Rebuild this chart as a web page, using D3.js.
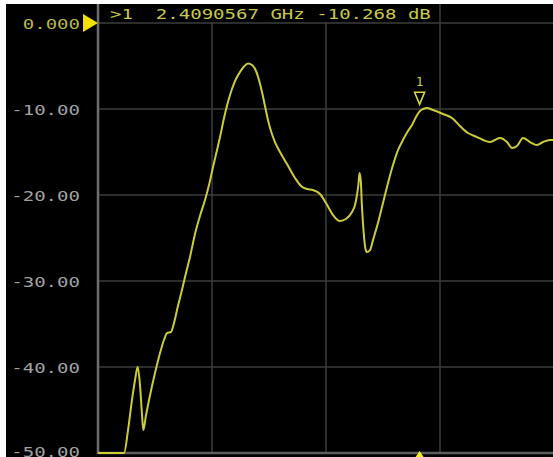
<!DOCTYPE html>
<html>
<head>
<meta charset="utf-8">
<script src="https://cdn.jsdelivr.net/npm/d3@7"></script>
<style>
  html, body { margin: 0; padding: 0; background: #fff; }
  svg { display: block; }
  text { font-family: "DejaVu Sans Mono", "Liberation Mono", monospace; }
</style>
</head>
<body>
<svg id="chart" width="553" height="457"></svg>
<script>
// S11 sweep, frequency in GHz
const freqGHz = [
  2.0000, 2.0331, 2.0382, 2.0432, 2.0471, 2.0505, 2.0534, 2.0560, 2.0576, 2.0611,
  2.0649, 2.0687, 2.0725, 2.0789, 2.0839, 2.0878, 2.0928, 2.0967, 2.1017, 2.1068,
  2.1119, 2.1170, 2.1234, 2.1297, 2.1361, 2.1412, 2.1463, 2.1514, 2.1552, 2.1603,
  2.1653, 2.1704, 2.1755, 2.1806, 2.1857, 2.1908, 2.1959, 2.2010, 2.2048, 2.2086,
  2.2124, 2.2162, 2.2200, 2.2251, 2.2315, 2.2404, 2.2506, 2.2582, 2.2658, 2.2735,
  2.2824, 2.2900, 2.2989, 2.3078, 2.3154, 2.3231, 2.3269, 2.3294, 2.3313, 2.3326,
  2.3343, 2.3355, 2.3374, 2.3396, 2.3418, 2.3460, 2.3498, 2.3561, 2.3625, 2.3689,
  2.3752, 2.3816, 2.3879, 2.3943, 2.3994, 2.4045, 2.4090567, 2.4134, 2.4185, 2.4261,
  2.4388, 2.4503, 2.4604, 2.4706, 2.4821, 2.4897, 2.4986, 2.5049, 2.5113, 2.5202,
  2.5266, 2.5329, 2.5406, 2.5495, 2.5584, 2.5660, 2.5749, 2.5800
];
// Return loss, dB
const s11dB = [
  -50.00, -50.00, -47.33, -43.84, -41.51, -40.00, -42.09, -45.58, -47.33, -45.58,
  -43.84, -42.21, -40.70, -38.37, -36.86, -36.05, -35.93, -34.88, -32.91, -31.05,
  -29.07, -27.21, -24.53, -22.44, -20.58, -18.84, -16.74, -14.77, -13.26, -11.05,
  -9.19, -7.67, -6.51, -5.70, -5.06, -4.71, -4.88, -5.58, -6.63, -8.02,
  -9.65, -11.28, -12.56, -13.84, -15.00, -16.40, -18.02, -18.95, -19.30, -19.42,
  -19.88, -20.93, -22.33, -23.02, -22.79, -21.98, -21.16, -20.00, -18.72, -17.44,
  -18.37, -20.93, -23.72, -25.93, -26.63, -26.40, -25.23, -23.26, -20.93, -18.60,
  -16.51, -14.77, -13.60, -12.56, -11.86, -10.93, -10.268, -10.00, -9.88, -10.12,
  -10.58, -11.05, -11.98, -12.79, -13.26, -13.60, -13.84, -13.60, -13.37, -13.84,
  -14.53, -14.30, -13.37, -13.84, -14.19, -13.84, -13.60, -13.60
];
// Amplitude grid, dB per division
const yTicks = [0, -10, -20, -30, -40, -50];
const yTickLabels = ["0.000", "-10.00", "-20.00", "-30.00", "-40.00", "-50.00"];
// Frequency grid lines, GHz
const xTicks = [2.145, 2.29, 2.435, 2.58];
// Marker 1
const markerId = "1";
const markerFreqGHz = 2.4090567;
const markerdB = -10.268;

const W = 553, H = 457;
const FONT_STRETCH = 1.36;   // wide instrument font
const svg = d3.select("#chart");

const x = d3.scaleLinear().domain([2.0, 2.58]).range([98, 554]);
const y = d3.scaleLinear().domain([-50, 0]).range([453, 23]);

// screen background
svg.append("rect").attr("width", W).attr("height", H).attr("fill", "#ffffff");
svg.append("rect").attr("x", 6).attr("y", 4).attr("width", W - 6).attr("height", H - 4).attr("fill", "#000000");

// grid
const grid = svg.append("g").attr("stroke", "#3c3c3c").attr("stroke-width", 1.5);
grid.selectAll("line.v").data(xTicks).join("line")
  .attr("x1", d => x(d)).attr("x2", d => x(d))
  .attr("y1", 4).attr("y2", y(-50));
grid.selectAll("line.h").data(yTicks.slice(0, -1)).join("line")
  .attr("x1", x(2.0)).attr("x2", W)
  .attr("y1", d => y(d)).attr("y2", d => y(d));

// header box over top of grid
svg.append("rect").attr("x", x(2.0) + 1).attr("y", 4)
  .attr("width", 437 - x(2.0)).attr("height", 18).attr("fill", "#000");

// frame axes
svg.append("line").attr("x1", x(2.0)).attr("x2", x(2.0)).attr("y1", 4).attr("y2", y(-50) + 1)
  .attr("stroke", "#6e6e6e").attr("stroke-width", 2.5);
svg.append("line").attr("x1", x(2.0)).attr("x2", W).attr("y1", y(-50)).attr("y2", y(-50))
  .attr("stroke", "#5e5e5e").attr("stroke-width", 2.5);

// amplitude labels
svg.selectAll("text.ylab").data(yTicks).join("text")
  .attr("class", "ylab")
  .attr("transform", d => `translate(80,${Math.min(y(d) + 5.5, 456.5)}) scale(${FONT_STRETCH},1)`)
  .attr("text-anchor", "end")
  .attr("font-size", 14)
  .attr("fill", (d, i) => i === 0 ? "#b8b84a" : "#a2a2a2")
  .text((d, i) => yTickLabels[i]);

// reference level pointer
svg.append("path")
  .attr("d", `M83,${y(0) - 9}L98,${y(0)}L83,${y(0) + 9}Z`)
  .attr("fill", "#f2e200");

// trace
const pts = freqGHz.map((f, i) => [f, s11dB[i]]);
const line = d3.line().x(d => x(d[0])).y(d => y(d[1])).curve(d3.curveMonotoneX);
svg.append("path").datum(pts)
  .attr("d", line)
  .attr("fill", "none")
  .attr("stroke", "#cccc3a")
  .attr("stroke-width", 2)
  .attr("stroke-linejoin", "round");

// marker 1 on trace
const mx = x(markerFreqGHz), my = y(markerdB);
svg.append("path")
  .attr("d", `M${mx - 5},${my - 19}L${mx + 5},${my - 19}L${mx},${my - 7}Z`)
  .attr("fill", "none").attr("stroke", "#d8d840").attr("stroke-width", 1.6);
svg.append("text").attr("x", mx).attr("y", my - 25)
  .attr("text-anchor", "middle").attr("font-size", 12)
  .attr("fill", "#d8d840").text(markerId);

// marker position on frequency axis
svg.append("path")
  .attr("d", `M${mx - 4},${H}L${mx},${H - 6}L${mx + 4},${H}Z`)
  .attr("fill", "#f4ee20");

// marker readout
svg.append("text")
  .attr("transform", `translate(110,18.5) scale(${FONT_STRETCH},1)`)
  .attr("font-size", 14)
  .attr("fill", "#c8c84e")
  .attr("xml:space", "preserve")
  .style("white-space", "pre")
  .text(`>${markerId}  ${markerFreqGHz.toFixed(7)} GHz ${markerdB.toFixed(3)} dB`);
</script>
</body>
</html>
